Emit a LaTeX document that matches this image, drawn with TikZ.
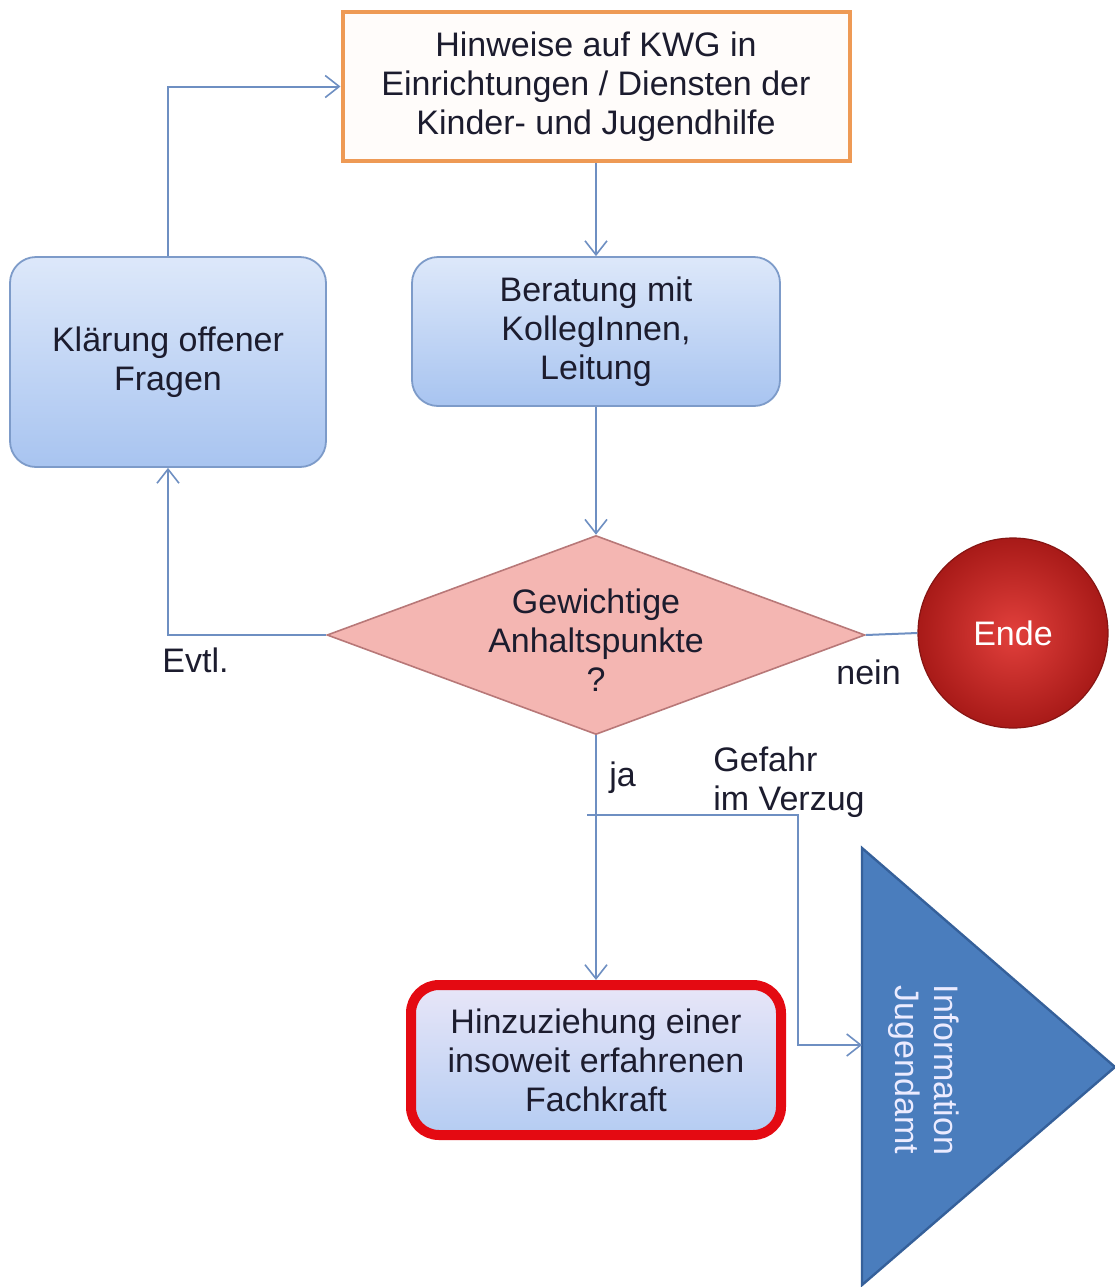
\documentclass[tikz,border=0pt]{standalone}
\usepackage{fontspec}
\setmainfont{Liberation Sans}
\usetikzlibrary{shapes.geometric,arrows.meta}
\definecolor{linec}{HTML}{6E8FC2}
\definecolor{txt}{HTML}{1C1C2E}
\definecolor{orangeb}{HTML}{EE9A55}
\definecolor{blueb}{HTML}{7D9BC9}
\definecolor{bluetop}{HTML}{DDE8FA}
\definecolor{bluebot}{HTML}{A8C4F0}
\definecolor{diafill}{HTML}{F4B6B2}
\definecolor{diadraw}{HTML}{B87878}
\definecolor{endein}{HTML}{E2403C}
\definecolor{endeout}{HTML}{A81A18}
\definecolor{trifill}{HTML}{4A7DBD}
\definecolor{tridraw}{HTML}{35609A}
\definecolor{redb}{HTML}{E40A12}
\definecolor{lavtop}{HTML}{E8E6F8}
\definecolor{lavbot}{HTML}{B4CCF2}
\begin{document}
\begin{tikzpicture}[x=0.5pt,y=-0.5pt,
  every node/.style={font=\fontsize{17}{19.5}\selectfont, text=txt, align=center},
  conn/.style={draw=linec, line width=1pt},
  arr/.style={conn, -{Straight Barb[length=7pt,width=11pt,line width=0.8pt]}},
  bluebox/.style={draw=blueb, line width=0.9pt, rounded corners=13pt, top color=bluetop, bottom color=bluebot, inner sep=0pt},
  lbl/.style={font=\fontsize{17}{19.5}\selectfont, inner sep=0pt}]
\useasboundingbox (0,0) rectangle (1115,1287);
\fill[white] (0,0) rectangle (1115,1287);

% nodes
\node[draw=orangeb, line width=2pt, fill=white!98!orange, minimum width=253.5pt, minimum height=74.5pt, inner sep=0pt] (hin) at (596,86.5)
  {Hinweise auf KWG in\\Einrichtungen / Diensten der\\Kinder- und Jugendhilfe};
\node[bluebox, minimum width=184pt, minimum height=74.5pt] (ber) at (596,331.5)
  {Beratung mit\\KollegInnen,\\Leitung};
\node[bluebox, minimum width=158pt, minimum height=105pt] (kla) at (168,362)
  {Klärung offener\\Fragen};
\node[diamond, draw=diadraw, line width=0.8pt, fill=diafill, minimum width=269pt, minimum height=99.5pt, inner sep=0pt] (dia) at (596,635) {};
\node (diat) at (596,640) {Gewichtige\\Anhaltspunkte\\?};
\node[circle, inner color=endein, outer color=endeout, draw=endeout!80!black, line width=0.6pt, minimum size=95pt, inner sep=0pt, text=white] (ende) at (1013,633) {Ende};
\node[draw=redb, line width=5pt, rounded corners=14pt, top color=lavtop, bottom color=lavbot, minimum width=185pt, minimum height=75pt, inner sep=0pt] (fach) at (596,1060)
  {Hinzuziehung einer\\insoweit erfahrenen\\Fachkraft};
\draw[fill=trifill, draw=tridraw, line width=1.2pt] (862,848) -- (1115,1067) -- (862,1285) -- cycle;
\coordinate (tri) at (862,1045);
\node[rotate=-90, text=white!92!blue] (jug) at (924,1070) {Information\\Jugendamt};

% connectors
\draw[arr] (hin.south) -- (ber.north);
\draw[arr] (ber.south) -- (dia.north);
\draw[arr] (dia.west) -| (kla.south);
\draw[arr] (kla.north) |- (hin.west);
\draw[conn] (dia.east) -- (ende.west);
\draw[arr] (dia.south) -- (fach.north);
\coordinate (gv) at (587,815);
\draw[arr] (gv) -- (798,815) -- (798,1045) -- (tri);

% labels
\node[lbl, anchor=west] (evtl) at (162,660) {Evtl.};
\node[lbl, anchor=west] (nein) at (836,672) {nein};
\node[lbl, anchor=west] (ja) at (609,778) {ja};
\node[lbl, anchor=west, align=left] (gef) at (713,782) {Gefahr\\im Verzug};
\end{tikzpicture}
\end{document}
